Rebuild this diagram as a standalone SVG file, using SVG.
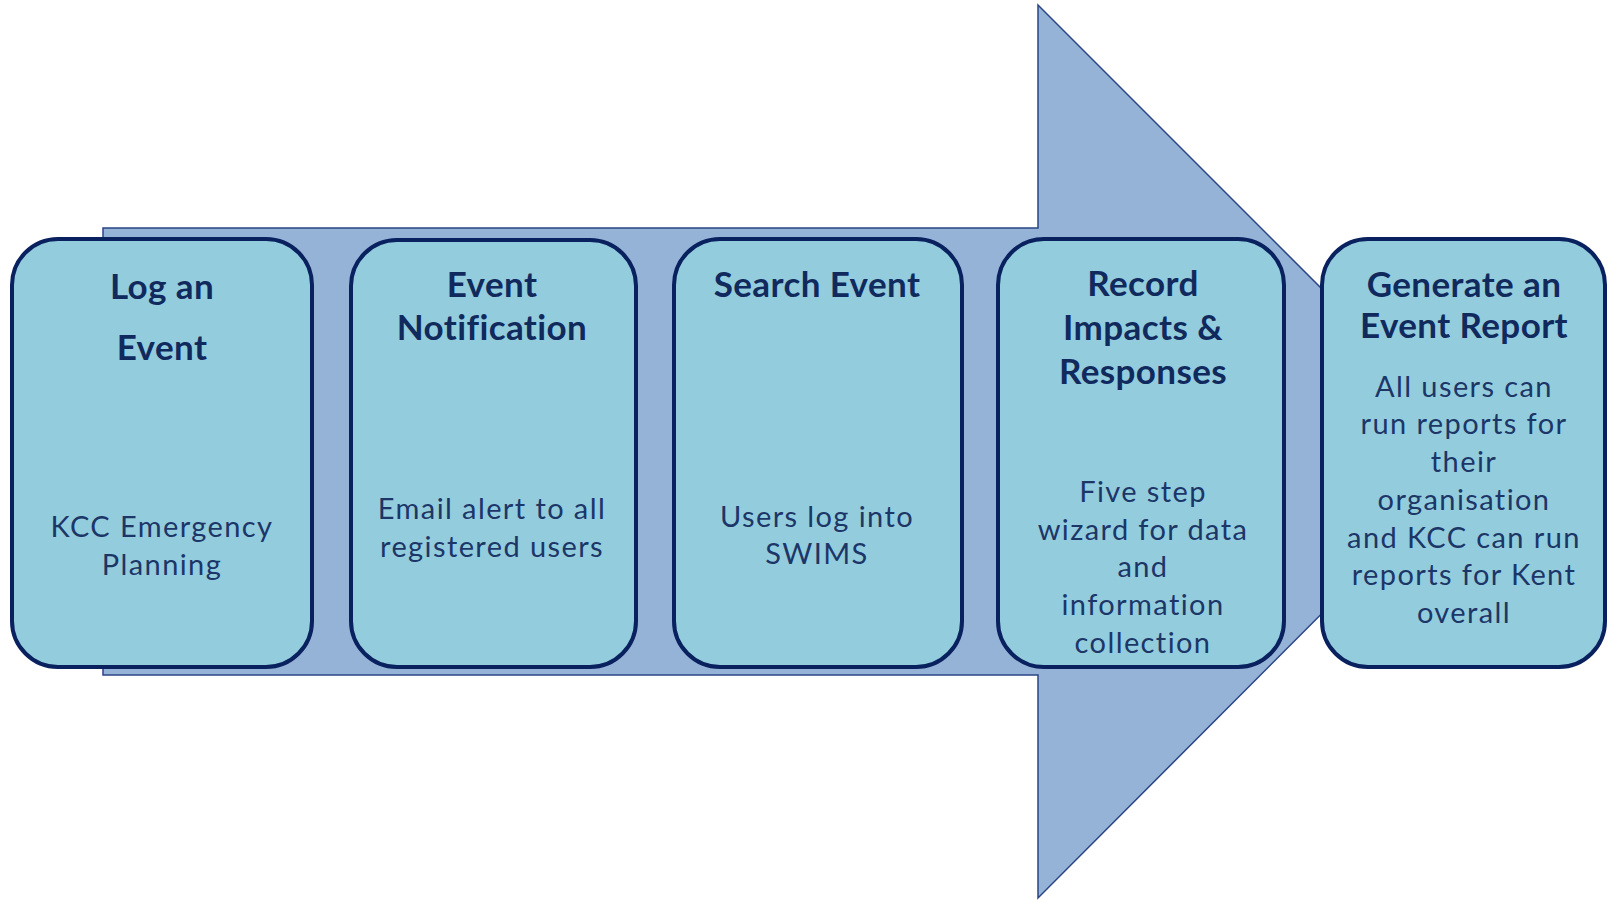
<svg xmlns="http://www.w3.org/2000/svg" width="1608" height="900" viewBox="0 0 1608 900">
<style>
.box{fill:#93CDDD;stroke:#0A2160;stroke-width:4}
.t{font-family:Lato,"Liberation Sans",sans-serif;font-weight:bold;font-size:35px;letter-spacing:0.4px;fill:#112A5E;text-anchor:middle}
.b{font-family:Lato,"Liberation Sans",sans-serif;font-size:29px;letter-spacing:1.4px;fill:#1C3668;text-anchor:middle}
</style>
<rect width="1608" height="900" fill="#FFFFFF"/>
<g id="connectors">
<polygon id="arrow" points="103,228 1038,228 1038,5 1484,451 1038,898 1038,675 103,675" fill="#95B3D7" stroke="#2A4585" stroke-width="1.5"/>
</g>
<g id="node1">
<rect class="box" x="12" y="239" width="300" height="428" rx="46"/>
<text class="t" x="162" y="299">Log an</text>
<text class="t" x="162" y="360">Event</text>
<text class="b" x="162" y="537">KCC Emergency</text>
<text class="b" x="162" y="575">Planning</text>
</g>
<g id="node2">
<rect class="box" x="351" y="240" width="285" height="427" rx="46"/>
<text class="t" x="492" y="297">Event</text>
<text class="t" x="492" y="340">Notification</text>
<text class="b" x="492" y="519">Email alert to all</text>
<text class="b" x="492" y="557">registered users</text>
</g>
<g id="node3">
<rect class="box" x="674" y="239" width="288" height="428" rx="46"/>
<text class="t" x="817" y="297">Search Event</text>
<text class="b" x="817" y="527">Users log into</text>
<text class="b" x="817" y="564">SWIMS</text>
</g>
<g id="node4">
<rect class="box" x="998" y="239" width="286" height="428" rx="46"/>
<text class="t" x="1143" y="296">Record</text>
<text class="t" x="1143" y="340">Impacts &amp;</text>
<text class="t" x="1143" y="384">Responses</text>
<text class="b" x="1143" y="502">Five step</text>
<text class="b" x="1143" y="540">wizard for data</text>
<text class="b" x="1143" y="577">and</text>
<text class="b" x="1143" y="615">information</text>
<text class="b" x="1143" y="653">collection</text>
</g>
<g id="node5">
<rect class="box" x="1322" y="239" width="283" height="428" rx="46"/>
<text class="t" x="1464" y="297">Generate an</text>
<text class="t" x="1464" y="338">Event Report</text>
<text class="b" x="1464" y="397">All users can</text>
<text class="b" x="1464" y="434">run reports for</text>
<text class="b" x="1464" y="472">their</text>
<text class="b" x="1464" y="510">organisation</text>
<text class="b" x="1464" y="548">and KCC can run</text>
<text class="b" x="1464" y="585">reports for Kent</text>
<text class="b" x="1464" y="623">overall</text>
</g>
</svg>
